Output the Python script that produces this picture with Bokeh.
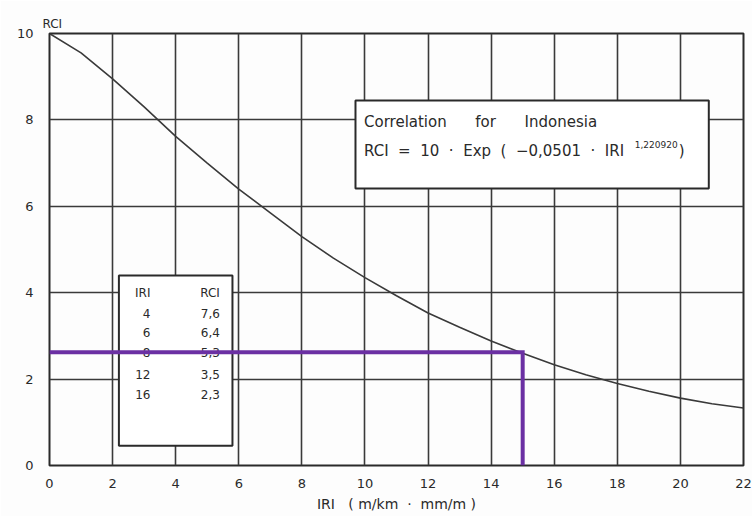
from bokeh.plotting import figure
from bokeh.models import Range1d, FixedTicker, Title
from bokeh.core.properties import value
from bokeh.embed import file_html
from bokeh.resources import INLINE

# Curve values (RCI vs IRI)
iri = [0, 1, 2, 3, 4, 5, 6, 7, 8, 9, 10, 11, 12, 13, 14, 15, 16, 17, 18, 19, 20, 21, 22]
rci = [10.0, 9.55, 8.95, 8.3, 7.62, 7.0, 6.4, 5.85, 5.3, 4.8, 4.35, 3.93, 3.53, 3.2, 2.88,
       2.6, 2.33, 2.1, 1.9, 1.72, 1.56, 1.43, 1.33]

# Table in the chart
table_iri = ["4", "6", "8", "12", "16"]
table_rci = ["7,6", "6,4", "5,3", "3,5", "2,3"]

# Highlighted reading
marker_iri = 15
marker_rci = 2.62

x_ticks = [0, 2, 4, 6, 8, 10, 12, 14, 16, 18, 20, 22]
y_ticks = [0, 2, 4, 6, 8, 10]

INK = "#2a2a2a"
FONT = "DejaVu Sans"
NB = "\u00a0"

p = figure(width=752, height=516, output_backend="svg", toolbar_location=None,
           x_range=Range1d(0, 22), y_range=Range1d(0, 10),
           min_border_left=49, min_border_right=9, min_border_top=33, min_border_bottom=51)
p.background_fill_color = "#fdfdfd"
p.border_fill_color = "#fdfdfd"
p.outline_line_color = INK
p.outline_line_width = 2

p.add_layout(Title(text="RCI", align="left", offset=-7, text_font=FONT,
                   text_font_size="12px", text_font_style="normal", text_color=INK,
                   standoff=5), "above")

p.xaxis.ticker = FixedTicker(ticks=x_ticks)
p.yaxis.ticker = FixedTicker(ticks=y_ticks)
p.xgrid.ticker = FixedTicker(ticks=x_ticks)
p.ygrid.ticker = FixedTicker(ticks=y_ticks)
for g in (p.xgrid, p.ygrid):
    g.grid_line_color = "#3a3a3a"
    g.grid_line_width = 1.6
    g.grid_line_alpha = 1.0

for ax in (p.xaxis, p.yaxis):
    ax.axis_line_color = None
    ax.major_tick_line_color = None
    ax.minor_tick_line_color = None
    ax.major_label_text_font = FONT
    ax.major_label_text_font_size = "13px"
    ax.major_label_text_color = INK
p.yaxis.major_label_standoff = 10
p.xaxis.major_label_standoff = 7
p.xaxis.axis_label = "IRI" + NB * 3 + "(" + NB + "m/km" + NB * 2 + "\u00b7" + NB * 2 + "mm/m" + NB + ")"
p.xaxis.axis_label_text_font = FONT
p.xaxis.axis_label_text_font_size = "14px"
p.xaxis.axis_label_text_font_style = "normal"
p.xaxis.axis_label_text_color = INK
p.xaxis.axis_label_standoff = 5

# White boxes
p.quad(left=[9.7], right=[20.9], top=[8.45], bottom=[6.41],
       fill_color="white", line_color=INK, line_width=2)
p.quad(left=[2.2], right=[5.8], top=[4.4], bottom=[0.46],
       fill_color="white", line_color=INK, line_width=2)

# Curve
p.line(iri, rci, line_color="#3a3a3a", line_width=1.6)

# Table text
rows_y = [3.52, 3.08, 2.62, 2.1, 1.64]
p.text(x=[3.2, 5.4], y=[4.0, 4.0], text=["IRI", "RCI"], text_align="right",
       text_baseline="middle", text_font=value(FONT), text_font_size="12px", text_color=INK)
p.text(x=[3.2] * len(table_iri), y=rows_y, text=table_iri, text_align="right",
       text_baseline="middle", text_font=value(FONT), text_font_size="12px", text_color=INK)
p.text(x=[5.4] * len(table_rci), y=rows_y, text=table_rci, text_align="right",
       text_baseline="middle", text_font=value(FONT), text_font_size="12px", text_color=INK)

# Correlation text
line1 = "Correlation" + NB * 6 + "for" + NB * 6 + "Indonesia"
line2 = ("RCI" + NB * 2 + "=" + NB * 2 + "10" + NB * 2 + "\u00b7" + NB * 2 + "Exp" + NB * 2 +
         "(" + NB * 2 + "\u22120,0501" + NB * 2 + "\u00b7" + NB * 2 + "IRI")
p.text(x=[9.97], y=[7.94], text=[line1], text_baseline="middle",
       text_font=value(FONT), text_font_size="15px", text_color=INK)
p.text(x=[9.97], y=[7.29], text=[line2], text_baseline="middle",
       text_font=value(FONT), text_font_size="15px", text_color=INK)
p.text(x=[18.55], y=[7.44], text=["1,220920"], text_baseline="middle",
       text_font=value(FONT), text_font_size="9px", text_color=INK)
p.text(x=[19.95], y=[7.29], text=[")"], text_baseline="middle",
       text_font=value(FONT), text_font_size="15px", text_color=INK)

# Purple reading lines
p.line([0, marker_iri, marker_iri], [marker_rci, marker_rci, 0],
       line_color="#6b30a3", line_width=4, line_join="miter")

open("out.html", "w").write(file_html(p, INLINE))
